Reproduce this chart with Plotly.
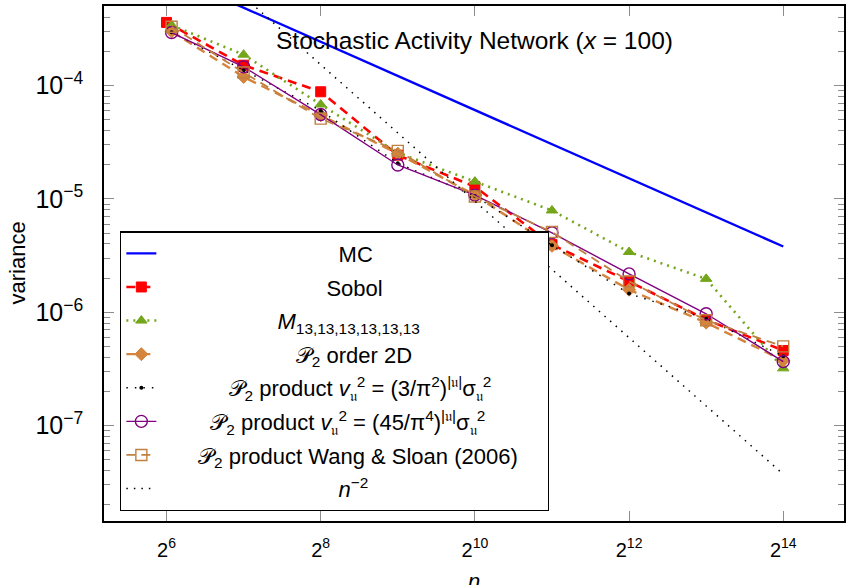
import math
import plotly.graph_objects as go

# ---------------- data ----------------
n_pow2 = [64, 128, 256, 512, 1024, 2048, 4096, 8192, 16384]
n_p2 = [67, 128, 256, 512, 1024, 2048, 4096, 8192, 16384]

mc_var = [9.7e-4, 4.85e-4, 2.43e-4, 1.21e-4, 6.1e-5, 3.03e-5, 1.52e-5, 7.6e-6, 3.8e-6]
sobol_var = [3.6e-4, 1.51e-4, 8.8e-5, 2.43e-5, 1.28e-5, 3.95e-6, 1.87e-6, 8.6e-7, 4.6e-7]
m13_var = [3.4e-4, 1.87e-4, 6.8e-5, 2.55e-5, 1.42e-5, 7.9e-6, 3.4e-6, 1.97e-6, 3.2e-7]
p2_order2d_var = [3.0e-4, 1.19e-4, 5.47e-5, 2.5e-5, 1.08e-5, 3.85e-6, 1.58e-6, 8.1e-7, 3.75e-7]
p2_prod3_var = [2.95e-4, 1.36e-4, 6.0e-5, 2.06e-5, 1.06e-5, 3.9e-6, 1.46e-6, 8.8e-7, 4.1e-7]
p2_prod45_var = [2.93e-4, 1.46e-4, 5.54e-5, 1.99e-5, 1.08e-5, 5.02e-6, 2.18e-6, 9.7e-7, 3.67e-7]
p2_ws_var = [3.3e-4, 1.3e-4, 5.1e-5, 2.65e-5, 1.05e-5, 5.1e-6, 1.87e-6, 8.5e-7, 5.0e-7]
nm2_var = [2.44e-3, 6.1e-4, 1.53e-4, 3.81e-5, 9.5e-6, 2.38e-6, 5.96e-7, 1.49e-7, 3.73e-8]

x_tick_vals = [64, 256, 1024, 4096, 16384]
x_tick_text = ["2<sup>6</sup>", "2<sup>8</sup>", "2<sup>10</sup>", "2<sup>12</sup>", "2<sup>14</sup>"]

NB = "\u00a0"
legend_names = [
    "MC",
    "Sobol",
    "<i>M</i><sub>13,13,13,13,13,13</sub>",
    "𝒫<sub>2</sub> order 2D",
    "𝒫<sub>2</sub> product <i>v</i><sub>𝔲</sub><sup>2</sup> = (3/π<sup>2</sup>)<sup>|𝔲|</sup>σ<sub>𝔲</sub><sup>2</sup>",
    "𝒫<sub>2</sub> product <i>v</i><sub>𝔲</sub><sup>2</sup> = (45/π<sup>4</sup>)<sup>|𝔲|</sup>σ<sub>𝔲</sub><sup>2</sup>",
    "𝒫<sub>2</sub> product Wang &amp; Sloan (2006)",
    "<i>n</i><sup>−2</sup>",
]
legend_pad = [23, 21, 13, 16, 5, 2, 0, 23]

FONT = "Liberation Sans"

fig = go.Figure()

def add(x, y, idx, color, width, dash, symbol=None, msize=0, mfill=None, mline=1.0, mode="lines+markers"):
    name = NB * (legend_pad[idx] + 6) + legend_names[idx]
    if idx == 6:
        name = name + NB * 4
    marker = dict(size=msize, symbol=symbol or "circle",
                  color=mfill if mfill is not None else color,
                  line=dict(color=color, width=mline))
    fig.add_trace(go.Scatter(
        x=x, y=y, name=name, mode=mode, legendgroup=f"g{idx}",
        line=dict(color=color, width=width, dash=dash),
        marker=marker,
    ))

add(n_pow2, mc_var, 0, "#0000ff", 2.4, "solid", mode="lines")
add(n_pow2, sobol_var, 1, "#ff0000", 2.6, "9px,6px", "square", 10, None, 1.0)
add(n_p2, m13_var, 2, "#73a61a", 2.6, "2px,5px", "triangle-up", 10, None, 1.0)
add(n_p2, p2_order2d_var, 3, "#d4843c", 2.4, "9px,6px", "diamond", 10, None, 1.0)
add(n_p2, p2_prod3_var, 4, "#000000", 1.5, "1.5px,7px", "circle", 4, None, 0)
add(n_p2, p2_prod45_var, 5, "#800080", 1.4, "solid", "circle-open", 12, None, 1.4)
add(n_p2, p2_ws_var, 6, "#bf8040", 1.8, "9px,6px", "square-open", 11, None, 1.4)
add(n_pow2, nm2_var, 7, "#000000", 1.5, "1.5px,6px", mode="lines")

L2 = math.log10(2)
fig.update_layout(
    width=846, height=585, autosize=False,
    margin=dict(l=104, r=0, t=6, b=64, pad=0),
    paper_bgcolor="white", plot_bgcolor="white",
    font=dict(family=FONT, size=22, color="black"),
    showlegend=True,
    legend=dict(
        x=(120 - 104) / 742, y=1 - (231 - 5.7) / 515.3,
        xanchor="left", yanchor="top",
        bgcolor="white", bordercolor="black", borderwidth=1.4,
        font=dict(family=FONT, size=22, color="black"),
        tracegroupgap=2, traceorder="grouped",
    ),
    xaxis=dict(
        type="log", range=[5.189 * L2, 14.788 * L2],
        tickmode="array", tickvals=x_tick_vals, ticktext=x_tick_text,
        ticks="inside", ticklen=10, tickwidth=1, tickcolor="#8c8c8c",
        showline=True, linecolor="black", linewidth=1.6, mirror="ticks",
        showgrid=False, zeroline=False,
        tickfont=dict(family=FONT, size=20), ticklabelstandoff=10,
    ),
    yaxis=dict(
        type="log", range=[-7.841, -3.299],
        dtick=1, exponentformat="power", showexponent="all",
        ticks="inside", ticklen=10, tickwidth=1, tickcolor="#8c8c8c",
        minor=dict(ticks="inside", ticklen=6.5, tickwidth=1, tickcolor="#8c8c8c", dtick="D1", showgrid=False),
        showline=True, linecolor="black", linewidth=1.6, mirror="ticks",
        showgrid=False, zeroline=False,
        tickfont=dict(family=FONT, size=20), ticklabelstandoff=15,
    ),
    annotations=[
        dict(text="Stochastic Activity Network (<i>x</i> = 100)", xref="paper", yref="paper",
             x=0.5, y=1 - (40 - 5.7) / 515.3, xanchor="center", yanchor="middle",
             showarrow=False, font=dict(family=FONT, size=24.5)),
        dict(text="variance", xref="paper", yref="paper", x=0, y=0.5, xshift=-87,
             xanchor="center", yanchor="middle", textangle=-90, showarrow=False,
             font=dict(family=FONT, size=22)),
        dict(text="<i>n</i>", xref="paper", yref="paper", x=0.5, y=0, yshift=-60,
             xanchor="center", yanchor="middle", showarrow=False,
             font=dict(family=FONT, size=22)),
    ],
)

fig.write_html("out.html", config={"displayModeBar": False},
               post_script="document.body.style.margin='0px';")
